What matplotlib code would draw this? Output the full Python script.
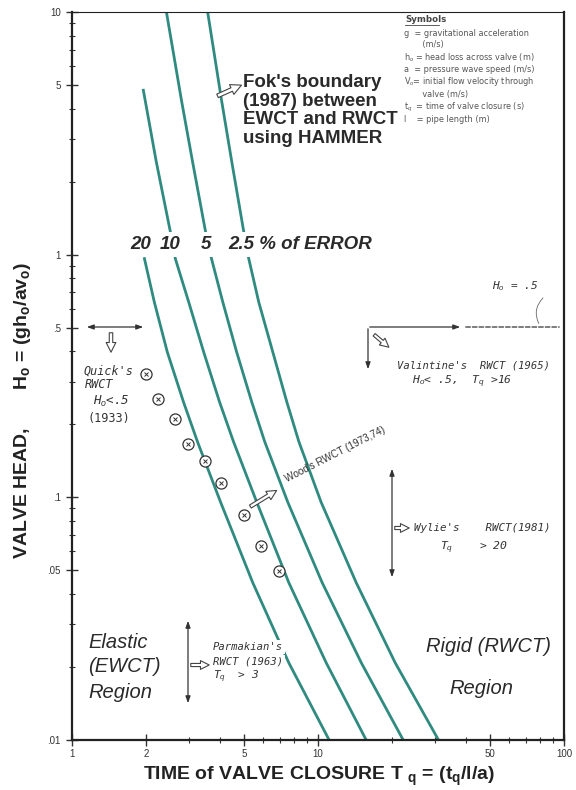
import numpy as np
import matplotlib.pyplot as plt
from matplotlib.lines import Line2D

plt.rcParams['font.family'] = ['Liberation Sans', 'DejaVu Sans']
plt.rcParams['mathtext.fontset'] = 'custom'
plt.rcParams['mathtext.rm'] = 'Liberation Sans'
plt.rcParams['mathtext.it'] = 'Liberation Sans:italic'
plt.rcParams['mathtext.bf'] = 'Liberation Sans:bold'

# error curves (T_q, H_o)
T_20 = [1.97, 2.16, 2.44, 2.84, 3.24, 4.02, 5.43, 7.61, 11.1]
H_20 = [0.963, 0.639, 0.397, 0.247, 0.169, 0.0954, 0.0445, 0.0208, 0.01]
T_10 = [1.95, 2.20, 2.51, 2.63, 2.98, 3.43, 3.98, 4.54, 5.64, 7.61, 10.8, 15.7]
H_10 = [4.76, 2.42, 1.245, 0.963, 0.639, 0.397, 0.247, 0.169, 0.0954, 0.0445, 0.0208, 0.01]
T_5 = [2.42, 2.79, 3.09, 3.49, 3.69, 4.10, 4.67, 5.38, 6.08, 7.54, 10.4, 15.0, 22.2]
H_5 = [10.0, 4.29, 2.42, 1.245, 0.963, 0.639, 0.397, 0.247, 0.169, 0.0954, 0.0445, 0.0208, 0.01]
T_25 = [3.56, 4.06, 4.46, 4.99, 5.23, 5.74, 6.55, 7.47, 8.37, 10.3, 14.3, 20.6, 30.9]
H_25 = [10.0, 4.29, 2.42, 1.245, 0.963, 0.639, 0.397, 0.247, 0.169, 0.0954, 0.0445, 0.0208, 0.01]

# Quick's data points
T_quick = [2.00, 2.24, 2.63, 2.97, 3.46, 4.02, 4.99, 5.85, 6.93]
H_quick = [0.322, 0.254, 0.210, 0.166, 0.141, 0.115, 0.0843, 0.0628, 0.0499]

x_ticks = [1, 2, 5, 10, 50, 100]
x_labels = ['1', '2', '5', '10', '50', '100']
y_ticks = [0.01, 0.05, 0.1, 0.5, 1, 5, 10]
y_labels = ['.01', '.05', '.1', '.5', '1', '5', '10']

W, H = 576, 790
teal = '#2f8a80'
ink = '#333333'
mono = 'DejaVu Sans Mono'


def fp(x, y):
    # pixel position (from top-left) -> figure fraction
    return (x / W, 1 - y / H)


fig = plt.figure(figsize=(W / 100, H / 100), dpi=100)
ax = fig.add_axes([72 / W, 50 / H, (564 - 72) / W, (740 - 12) / H])
ax.set_xscale('log')
ax.set_yscale('log')
ax.set_xlim(1, 100)
ax.set_ylim(0.01, 10)

for T, Hv in [(T_20, H_20), (T_10, H_10), (T_5, H_5), (T_25, H_25)]:
    ax.plot(T, Hv, color=teal, lw=2.0, zorder=2, solid_joinstyle='round')

ax.plot(T_quick, H_quick, 'o', mfc='white', mec=ink, ms=8, mew=0.9, zorder=3)
ax.plot(T_quick, H_quick, 'x', color=ink, ms=3.5, mew=0.7, zorder=4)

ax.set_xticks(x_ticks)
ax.set_xticklabels(x_labels)
ax.set_yticks(y_ticks)
ax.set_yticklabels(y_labels)
ax.tick_params(which='major', direction='inout', length=9, width=1, color=ink,
               labelsize=7, labelcolor=ink)
ax.tick_params(which='minor', direction='inout', length=5, width=0.8, color=ink)
ax.tick_params(axis='x', pad=2)
for s in ax.spines.values():
    s.set_color('#222222')
    s.set_linewidth(1.6)
ax.spines['top'].set_linewidth(0.8)

# error labels
box = dict(fc='white', ec='none', pad=3)
lab_kw = dict(fontsize=13.5, fontweight='bold', style='italic', color='#2a2a2a',
              va='center', bbox=box, zorder=5)
ax.text(1.895, 1.10, '20', ha='center', **lab_kw)
ax.text(2.51, 1.10, '10', ha='center', **lab_kw)
ax.text(3.49, 1.10, '5', ha='center', **lab_kw)
ax.text(4.33, 1.10, '2.5 % of ERROR', ha='left', **lab_kw)

# Fok's boundary
fig.text(*fp(243, 74), "Fok's boundary\n(1987) between\nEWCT and RWCT\nusing HAMMER",
         fontsize=13.5, fontweight='bold', color='#2a2a2a', va='top', ha='left',
         linespacing=1.12)
hollow = dict(arrowstyle='simple,head_length=0.7,head_width=0.7,tail_width=0.25',
              fc='white', ec='#444444', lw=0.8, mutation_scale=11)
ax.annotate('', xy=fp(244, 84), xytext=fp(215, 97), xycoords='figure fraction',
            textcoords='figure fraction', arrowprops=hollow)

# symbols block
sym = [("g  = gravitational acceleration", 33),
       ("       (m/s)", 45),
       ("h$_o$ = head loss across valve (m)", 58),
       ("a  = pressure wave speed (m/s)", 70),
       ("V$_o$= initial flow velocity through", 82),
       ("       valve (m/s)", 94),
       ("t$_q$  = time of valve closure (s)", 107),
       ("l    = pipe length (m)", 119)]
fig.text(*fp(405, 19), 'Symbols', fontsize=6.2, fontweight='bold', color='#444444',
         va='center', ha='left', family='DejaVu Sans')
ul0, ul1 = fp(405, 25), fp(439, 25)
fig.add_artist(Line2D([ul0[0], ul1[0]], [ul0[1], ul1[1]], color='#444444', lw=0.6,
                      transform=fig.transFigure))
for s, y in sym:
    fig.text(*fp(404, y), s, fontsize=5.9, color='#555555', va='center', ha='left',
             family='DejaVu Sans')

hand = dict(style='italic', color=ink, ha='left', va='center', family=mono)
thin = dict(arrowstyle='<|-|>,head_length=0.5,head_width=0.18', color=ink, lw=0.9,
            mutation_scale=8)
one = dict(arrowstyle='-|>,head_length=0.5,head_width=0.18', color=ink, lw=0.9,
           mutation_scale=8)
fa = dict(xycoords='figure fraction', textcoords='figure fraction')

# Quick's
ax.annotate('', xy=fp(146, 327), xytext=fp(84, 327), arrowprops=thin, **fa)
ax.annotate('', xy=fp(111, 355), xytext=fp(111, 330),
            arrowprops=dict(hollow, mutation_scale=10), **fa)
fig.text(*fp(84, 371), "Quick's", fontsize=8.5, **hand)
fig.text(*fp(85, 385), "RWCT", fontsize=8.5, **hand)
fig.text(*fp(93, 401), "H$_o$<.5", fontsize=9, **hand)
fig.text(*fp(88, 418), "(1933)", fontsize=8.5, color=ink, ha='left', va='center',
         family=mono)

# Valintine's
ax.annotate('', xy=fp(463, 327), xytext=fp(367, 327), arrowprops=one, **fa)
ax.annotate('', xy=fp(562, 327), xytext=fp(463, 327),
            arrowprops=dict(arrowstyle='-', color=ink, lw=0.9, linestyle='--'), **fa)
ax.annotate('', xy=fp(368, 372), xytext=fp(368, 326), arrowprops=one, **fa)
ax.annotate('', xy=fp(391, 349), xytext=fp(372, 333),
            arrowprops=dict(hollow, mutation_scale=9), **fa)
fig.text(*fp(492, 286), "H$_o$ = .5", fontsize=8, **hand)
ax.annotate('', xy=fp(540, 326), xytext=fp(545, 296),
            arrowprops=dict(arrowstyle='-', color='#666666', lw=0.6,
                            connectionstyle='arc3,rad=0.4'), **fa)
fig.text(*fp(397, 366), "Valintine's  RWCT (1965)", fontsize=7.6, **hand)
fig.text(*fp(412, 382), "H$_o$< .5,  T$_q$ >16", fontsize=8.2, **hand)

# Wood's
ax.annotate('', xy=fp(279, 489), xytext=fp(248, 508),
            arrowprops=dict(hollow, mutation_scale=10), **fa)
fig.text(*fp(288, 484), "Wood's RWCT (1973,74)", fontsize=7.2, color=ink,
         rotation=27, rotation_mode='anchor', ha='left', va='bottom',
         family='Liberation Sans')

# Wylie's
ax.annotate('', xy=fp(392, 466), xytext=fp(392, 580), arrowprops=thin, **fa)
ax.annotate('', xy=fp(412, 528), xytext=fp(392, 528),
            arrowprops=dict(hollow, mutation_scale=9), **fa)
fig.text(*fp(414, 528), "Wylie's    RWCT(1981)", fontsize=7.8, **hand)
fig.text(*fp(440, 548), "T$_q$    > 20", fontsize=8.2, **hand)

# Parmakian's
ax.annotate('', xy=fp(188, 618), xytext=fp(188, 706), arrowprops=thin, **fa)
ax.annotate('', xy=fp(212, 665), xytext=fp(188, 665),
            arrowprops=dict(hollow, mutation_scale=9), **fa)
pk = dict(style='italic', color=ink, ha='left', va='center', family=mono,
          bbox=dict(fc='white', ec='none', pad=1.5), zorder=5,
          transform=fig.transFigure)
ax.text(*fp(213, 647), "Parmakian's", fontsize=7.6, **pk)
ax.text(*fp(213, 662), "RWCT (1963)", fontsize=7.6, **pk)
ax.text(*fp(213, 677), "T$_q$  > 3", fontsize=8, **pk)

# region labels
reg = dict(fontsize=14.5, style='italic', color='#2a2a2a', va='center')
fig.text(*fp(88, 642), "Elastic", ha='left', **reg)
fig.text(*fp(88, 666), "(EWCT)", ha='left', **reg)
fig.text(*fp(88, 693), "Region", ha='left', **reg)
fig.text(*fp(488, 647), "Rigid (RWCT)", ha='center', **reg)
fig.text(*fp(481, 689), "Region", ha='center', **reg)

# axis titles
fig.text(*fp(319, 776), r"TIME of VALVE CLOSURE T $_{\mathbf{q}}$ = (t$_{\mathbf{q}}$/l/a)",
         fontsize=14, fontweight='bold', color='#222222', ha='center', va='center')
fig.text(*fp(23, 410), r"VALVE HEAD,       H$_{\mathbf{o}}$ = (gh$_{\mathbf{o}}$/av$_{\mathbf{o}}$)",
         fontsize=14, fontweight='bold', color='#222222', ha='center', va='center',
         rotation=90)

fig.savefig('out.png', dpi=100, facecolor='white')
